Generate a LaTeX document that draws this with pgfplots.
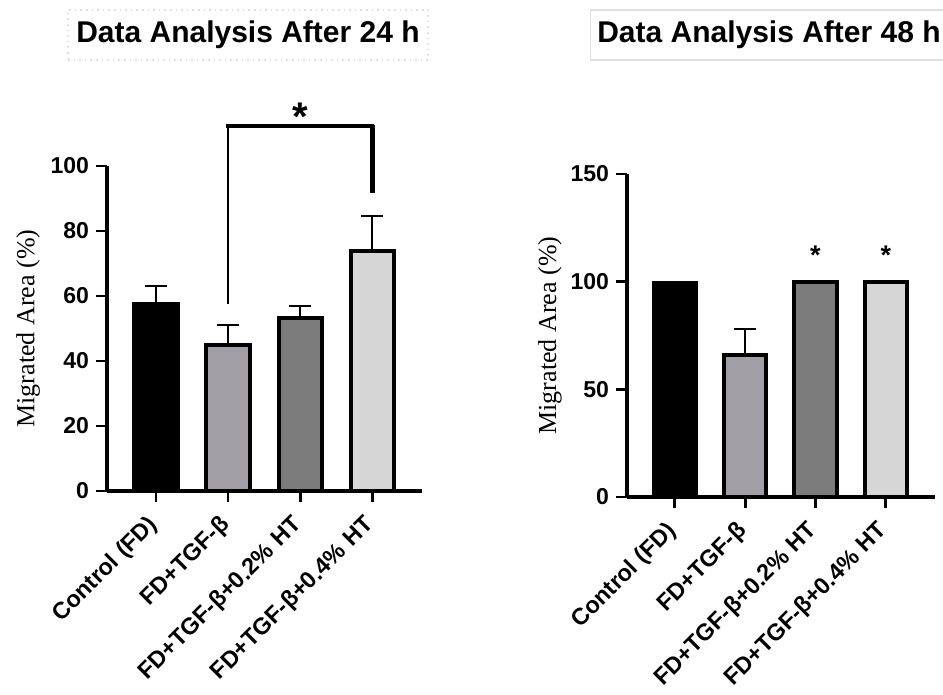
\documentclass[border=0pt]{standalone}
\usepackage{pgfplots}
\pgfplotsset{compat=1.18}
\usepackage{fontspec}
\setmainfont{Liberation Sans}
\newfontfamily\serifname{Liberation Serif}

\definecolor{barB}{RGB}{162,158,165}
\definecolor{barC}{RGB}{124,124,124}
\definecolor{barD}{RGB}{214,214,214}

\pgfplotsset{
  mystyle/.style={
    scale only axis,
    axis lines=left,
    axis line style={line width=1.6pt, -},
    every tick/.style={line width=1.4pt, black},
    major tick length=5.5pt,
    tick align=outside,
    /pgf/number format/assume math mode=true,
    xtick={0,1,2,3},
    xticklabels={Control (FD), FD+TGF-β, FD+TGF-β+0.2\% HT, FD+TGF-β+0.4\% HT},
    xticklabel style={rotate=45, anchor=north east, xshift=-6.5pt, yshift=0.5pt, inner sep=1pt, font=\fontsize{11.7}{12}\selectfont\bfseries},
    yticklabel style={font=\fontsize{11.5}{12}\selectfont\bfseries},
    ylabel={Migrated Area (\%)},
    ylabel style={font=\serifname\fontsize{13}{14}\selectfont, at={(axis description cs:-0.25,0.5)}, anchor=center},
    ybar, bar width=0.6, bar shift=0pt,
    clip=false,
    error bars/y dir=plus, error bars/y explicit,
    error bars/error bar style={line width=0.9pt, black},
    error bars/error mark options={line width=0.9pt, mark size=5.5pt, black, rotate=90},
  }
}

\begin{document}
\begin{tikzpicture}
\path[use as bounding box] (0,0) rectangle (471.5pt,347.5pt);

\node[draw=gray!25, dotted, line width=0.8pt, minimum width=180pt, minimum height=25pt,
      font=\fontsize{15}{15}\selectfont\bfseries] at (124pt,330pt) {Data Analysis After 24 h};
\node[draw=gray!25, line width=0.8pt, minimum width=175.5pt, minimum height=25pt,
      font=\fontsize{15}{15}\selectfont\bfseries] at (384.5pt,330pt) {Data Analysis After 48 h};

\begin{axis}[mystyle, width=157.5pt, height=162.5pt, at={(53.5pt,102pt)}, anchor=south west,
  xmin=-0.68, xmax=3.69, ymin=0, ymax=100, ytick={0,20,40,60,80,100}]
\addplot[fill=black, draw=black, line width=2pt] coordinates {(0,57.5) +- (0,5.6)};
\addplot[fill=barB, draw=black, line width=2pt] coordinates {(1,44.9) +- (0,6.2)};
\addplot[fill=barC, draw=black, line width=2pt] coordinates {(2,53.3) +- (0,3.6)};
\addplot[fill=barD, draw=black, line width=2pt] coordinates {(3,73.9) +- (0,10.8)};
\draw[line width=1.2pt] (axis cs:1,57.5) -- (axis cs:1,112.3);
\draw[line width=2pt, line cap=rect] (axis cs:1,112.3) -- (axis cs:3,112.3);
\draw[line width=2.5pt] (axis cs:3,112.6) -- (axis cs:3,91.7);
\node[anchor=base, inner sep=0pt, font=\fontsize{20}{20}\selectfont\bfseries] at (axis cs:2,110.8) {*};
\end{axis}

\begin{axis}[mystyle, width=154pt, height=161.5pt, at={(313.5pt,99pt)}, anchor=south west,
  xmin=-0.68, xmax=3.7, ymin=0, ymax=150, ytick={0,50,100,150}]
\addplot[fill=black, draw=black, line width=2pt] coordinates {(0,99.4) +- (0,0.3)};
\addplot[fill=barB, draw=black, line width=2pt] coordinates {(1,66) +- (0,12)};
\addplot[fill=barC, draw=black, line width=2pt] coordinates {(2,100)};
\addplot[fill=barD, draw=black, line width=2pt] coordinates {(3,100)};
\node[anchor=base, inner sep=0pt, font=\fontsize{13.5}{14}\selectfont\bfseries] at (axis cs:2,108.2) {*};
\node[anchor=base, inner sep=0pt, font=\fontsize{13.5}{14}\selectfont\bfseries] at (axis cs:3,108.2) {*};
\end{axis}
\end{tikzpicture}
\end{document}
